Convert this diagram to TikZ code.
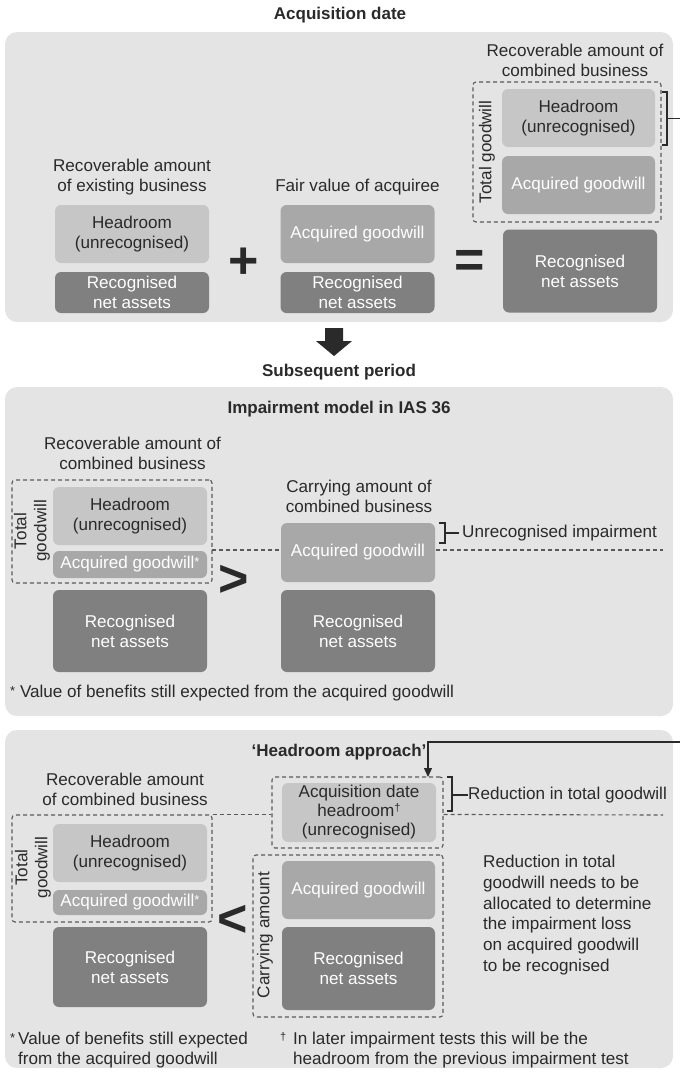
\documentclass[tikz,border=0pt]{standalone}
\usepackage{fontspec}
\setmainfont{Liberation Sans}
\usetikzlibrary{arrows.meta}
\definecolor{panelgray}{HTML}{E4E4E4}
\definecolor{hrgray}{HTML}{C6C6C6}
\definecolor{aggray}{HTML}{A8A8A8}
\definecolor{rnagray}{HTML}{808080}
\definecolor{txt}{HTML}{2A2A2A}
\definecolor{dashc}{HTML}{5A5A5A}
\begin{document}
\begin{tikzpicture}[x=1pt,y=-1pt,
  every node/.style={inner sep=0pt, align=center, text=txt, font=\fontsize{17.1}{20}\selectfont},
  panel/.style={fill=panelgray, rounded corners=12pt},
  hrbox/.style={fill=hrgray, rounded corners=6pt, text=txt},
  agbox/.style={fill=aggray, rounded corners=6pt, text=white},
  rnabox/.style={fill=rnagray, rounded corners=6pt, text=white},
  dbox/.style={draw=dashc, dash pattern=on 4pt off 3pt, line width=1.1pt, rounded corners=3pt},
  dline/.style={draw=dashc, dash pattern=on 4pt off 3pt, line width=1.1pt},
  brk/.style={draw=txt, line width=1.2pt},
  title/.style={font=\bfseries\fontsize{17}{20}\selectfont},
  op/.style={font=\bfseries\fontsize{52}{52}\selectfont, text=txt},
]
\useasboundingbox (0,0) rectangle (680,1074);

% ---------------- Panel 1 ----------------
\node[title] (t1) at (340,15) {Acquisition date};
\node[panel, minimum width=668pt, minimum height=290pt] (P1) at (339,177) {};

\node (lab1a) at (132,177.5) {Recoverable amount\\of existing business};
\node[hrbox, minimum width=154pt, minimum height=58pt] (hr1) at (132,234) {Headroom\\(unrecognised)};
\node[rnabox, minimum width=154pt, minimum height=41pt] (rna1) at (132,292.5) {Recognised\\net assets};
\node[op] (plus) at (244,263) {+};
\node (lab1b) at (357.5,187) {Fair value of acquiree};
\node[agbox, minimum width=154pt, minimum height=58pt] (ag1) at (357.5,234) {Acquired goodwill};
\node[rnabox, minimum width=154pt, minimum height=41pt] (rna2) at (357.5,292.5) {Recognised\\net assets};
\node[op] (eq) at (469.5,264) {=};

\node (lab1c) at (575,60) {Recoverable amount of\\combined business};
\node[dbox, minimum width=188pt, minimum height=140pt] (tg1) at (567,152) {};
\node[hrbox, minimum width=153pt, minimum height=58pt] (hr3) at (578.5,118) {Headroom\\(unrecognised)};
\node[agbox, minimum width=153pt, minimum height=58pt] (ag3) at (578.5,185) {Acquired goodwill};
\node[rotate=90] (tgl1) at (487,152) {Total goodwill};
\node[rnabox, minimum width=154pt, minimum height=83pt] (rna3) at (580,271) {Recognised\\net assets};
\coordinate (b1t) at (662,92);
\coordinate (b1b) at (662,145);
\coordinate (b1m) at (667,118.5);
\coordinate (b1out) at (680,118.5);
\draw[brk] (b1t) -- ++(5,0) |- (b1b);
\draw[brk] (b1m) -- (b1out);

% ---------------- Down arrow ----------------
\fill[txt] (325,328) -- (343,328) -- (343,341) -- (352,341) -- (334,356) -- (316,341) -- (325,341) -- cycle;
\node[title] (t2) at (339,372) {Subsequent period};

% ---------------- Panel 2 ----------------
\node[panel, minimum width=668pt, minimum height=329pt] (P2) at (339,551.5) {};
\node[title] (t3) at (339,409) {Impairment model in IAS 36};
\node (lab2a) at (132.5,453) {Recoverable amount of\\combined business};
\coordinate (d2a) at (212,550);
\coordinate (d2b) at (663,550);
\draw[dline] (d2a) -- (d2b);
\node[dbox, minimum width=200pt, minimum height=103pt] (tg2) at (112,531.5) {};
\node[hrbox, minimum width=154pt, minimum height=58pt] (hr4) at (130,516) {Headroom\\(unrecognised)};
\node[agbox, minimum width=154pt, minimum height=27pt] (ag4) at (130,564.5) {Acquired goodwill\raisebox{2.5pt}{\fontsize{13}{13}\selectfont*}};
\node[rotate=90] (tgl2) at (32,531) {Total\\goodwill};
\node[rnabox, minimum width=154pt, minimum height=82pt] (rna4) at (130,631) {Recognised\\net assets};
\node[op] (gt) at (234,581) {>};
\node (lab2b) at (359,496) {Carrying amount of\\combined business};
\node[agbox, minimum width=154pt, minimum height=59pt] (ag5) at (358,552.5) {Acquired goodwill};
\node[rnabox, minimum width=154pt, minimum height=82pt] (rna5) at (358,631) {Recognised\\net assets};
\coordinate (b2t) at (439,523);
\coordinate (b2b) at (439,543);
\coordinate (b2m) at (445,533);
\draw[brk] (b2t) -- ++(6,0) |- (b2b);
\node[anchor=west] (ui) at (462,533) {Unrecognised impairment};
\draw[brk] (b2m) -- ([xshift=-3pt]ui.west);
\node[anchor=west] (fn1) at (10,693) {\raisebox{2pt}{\fontsize{13}{13}\selectfont*} Value of benefits still expected from the acquired goodwill};

% ---------------- Panel 3 ----------------
\node[panel, minimum width=668pt, minimum height=338pt] (P3) at (339,899) {};
\node[title] (t4) at (339,752) {‘Headroom approach’};
\node (lab3a) at (125,789) {Recoverable amount\\of combined business};
\node[dbox, minimum width=171pt, minimum height=71pt] (adb) at (357.5,812.5) {};
\node[hrbox, minimum width=154pt, minimum height=59pt] (hr6) at (359,812.5) {Acquisition date\\[-1pt]headroom\raisebox{5pt}{\fontsize{11}{11}\selectfont†}\\[-1pt](unrecognised)};
\node[dbox, minimum width=200pt, minimum height=107pt] (tg3) at (112,868.5) {};
\draw[dline] (tg3.north east) -- (adb.west |- tg3.north east);
\draw[dline] (adb.east |- tg3.north east) -- (663,815);
\coordinate (aout) at (680,742);
\coordinate (ain) at (428,777);
\draw[line width=1.3pt, draw=txt, -{Triangle[length=9pt,width=8pt]}] (aout) -| (ain);
\coordinate (b3t) at (447,777);
\coordinate (b3b) at (447,811);
\coordinate (b3m) at (452,795);
\draw[brk] (b3t) -- ++(5,0) |- (b3b);
\node[anchor=west] (rtg) at (468,795) {Reduction in total goodwill};
\draw[brk] (b3m) -- (rtg.west);

\node[hrbox, minimum width=154pt, minimum height=58pt] (hr7) at (130,853) {Headroom\\(unrecognised)};
\node[agbox, minimum width=154pt, minimum height=25pt] (ag7) at (130,902.5) {Acquired goodwill\raisebox{2.5pt}{\fontsize{13}{13}\selectfont*}};
\node[rotate=90] (tgl3) at (33,867.5) {Total\\goodwill};
\node[rnabox, minimum width=154pt, minimum height=80pt] (rna7) at (130,967) {Recognised\\net assets};
\node[op] (lt) at (233,921) {<};
\node[dbox, minimum width=190pt, minimum height=162pt] (ca) at (348,936) {};
\node[agbox, minimum width=153pt, minimum height=58pt] (ag8) at (358.5,890) {Acquired goodwill};
\node[rnabox, minimum width=153pt, minimum height=83pt] (rna8) at (358.5,968.5) {Recognised\\net assets};
\node[rotate=90] (cal) at (265,935) {Carrying amount};
\node[anchor=west, align=left, font=\fontsize{17.1}{20.8}\selectfont] (rt) at (483,915) {Reduction in total\\goodwill needs to be\\allocated to determine\\the impairment loss\\on acquired goodwill\\to be recognised};
\node[anchor=west, align=left] (fn2) at (10,1050) {\makebox[8pt][l]{\raisebox{2pt}{\fontsize{13}{13}\selectfont*}}Value of benefits still expected\\\hspace*{8pt}from the acquired goodwill};
\node[anchor=west, align=left] (fn3) at (280,1050) {\makebox[13pt][l]{\raisebox{4pt}{\fontsize{11}{11}\selectfont†}}In later impairment tests this will be the\\\hspace*{13pt}headroom from the previous impairment test};
\end{tikzpicture}
\end{document}
